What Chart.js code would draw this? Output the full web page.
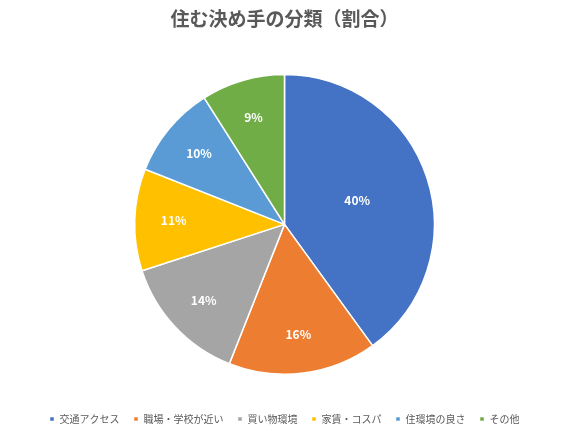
<!DOCTYPE html>
<html>
<head>
<meta charset="utf-8">
<script src="https://cdn.jsdelivr.net/npm/chart.js@4"></script>
<style>
  html, body { margin: 0; padding: 0; background: #fff; }
  #wrap { width: 563px; height: 431px; }
</style>
</head>
<body>
<div id="wrap"><canvas id="c"></canvas></div>
<script>
var categories = ['交通アクセス', '職場・学校が近い', '買い物環境', '家賃・コスパ', '住環境の良さ', 'その他'];
var values = [40, 16, 14, 11, 10, 9];
var colors = ['#4472C4', '#ED7D31', '#A5A5A5', '#FFC000', '#5B9BD5', '#70AD47'];

var FONT = '"Noto Sans CJK JP", "Noto Sans", sans-serif';

// パーセント表示（datalabels の代わり）
// 大きい扇は半径の半分、小さい扇は外寄りに置く（Excel のベストフィット風）
var pctLabels = {
    id: 'pctLabels',
    afterDatasetsDraw: function (chart) {
        var ctx = chart.ctx;
        var meta = chart.getDatasetMeta(0);
        ctx.save();
        ctx.fillStyle = '#fff';
        ctx.font = 'bold 12px ' + FONT;
        ctx.textAlign = 'center';
        ctx.textBaseline = 'middle';
        meta.data.forEach(function (arc, i) {
            var p = arc.getProps(['x', 'y', 'startAngle', 'endAngle', 'outerRadius'], true);
            var mid = (p.startAngle + p.endAngle) / 2;
            var k = values[i] >= 25 ? 0.51 : 0.74;
            var r = p.outerRadius * k;
            ctx.fillText(values[i] + '%', p.x + Math.cos(mid) * r, p.y + Math.sin(mid) * r);
        });
        ctx.restore();
    }
};

new Chart(document.getElementById('c'), {
    type: 'pie',
    data: {
        labels: categories,
        datasets: [{
            data: values,
            backgroundColor: colors,
            borderColor: '#fff',
            borderWidth: 1.5
        }]
    },
    options: {
        responsive: true, maintainAspectRatio: false,
        animation: false,
        layout: { padding: { left: 6, bottom: -3 } },
        plugins: {
            title: {
                display: true,
                text: '住む決め手の分類（割合）',
                color: '#595959',
                font: { family: FONT, size: 19, weight: 'bold' },
                padding: { top: 7, bottom: 44 }
            },
            legend: {
                position: 'bottom',
                title: { display: true, text: ' ', font: { size: 10 }, padding: { top: 5, bottom: 8 } },
                labels: {
                    usePointStyle: true,
                    pointStyle: 'rect',
                    boxWidth: 5, boxHeight: 5,
                    padding: 14,
                    color: '#595959',
                    font: { family: FONT, size: 10 }
                }
            },
            tooltip: { enabled: false }
        }
    },
    plugins: [pctLabels]
});
</script>
</body>
</html>
